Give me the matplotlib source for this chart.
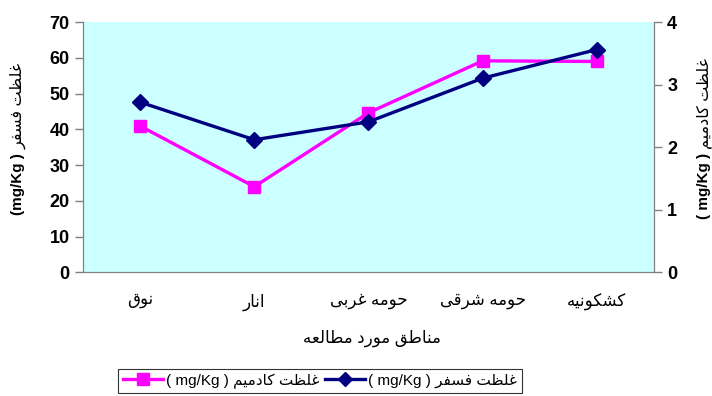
import numpy as np
import matplotlib
matplotlib.use('Agg')
import matplotlib.pyplot as plt
from matplotlib.lines import Line2D

# داده ها
regions = ['نوق', 'انار', 'حومه غربی', 'حومه شرقی', 'کشکونیه']
phosphorus = [47.6, 37.1, 42.1, 54.3, 62.3]      # left axis, mg/Kg
cadmium = [2.34, 1.37, 2.55, 3.38, 3.37]          # right axis, mg/Kg
left_ticks = [0, 10, 20, 30, 40, 50, 60, 70]
right_ticks = [0, 1, 2, 3, 4]

x_title = 'مناطق مورد مطالعه'
p_name = 'غلظت فسفر'
cd_name = 'غلظت کادمیم'

# matplotlib does no Arabic shaping, so pick presentation forms by hand
FORMS = {
    'ا': ('\uFE8D', '\uFE8E', None, None),
    'ب': ('\uFE8F', '\uFE90', '\uFE91', '\uFE92'),
    'ت': ('\uFE95', '\uFE96', '\uFE97', '\uFE98'),
    'ح': ('\uFEA1', '\uFEA2', '\uFEA3', '\uFEA4'),
    'د': ('\uFEA9', '\uFEAA', None, None),
    'ر': ('\uFEAD', '\uFEAE', None, None),
    'س': ('\uFEB1', '\uFEB2', '\uFEB3', '\uFEB4'),
    'ش': ('\uFEB5', '\uFEB6', '\uFEB7', '\uFEB8'),
    'ط': ('\uFEC1', '\uFEC2', '\uFEC3', '\uFEC4'),
    'ظ': ('\uFEC5', '\uFEC6', '\uFEC7', '\uFEC8'),
    'ع': ('\uFEC9', '\uFECA', '\uFECB', '\uFECC'),
    'غ': ('\uFECD', '\uFECE', '\uFECF', '\uFED0'),
    'ف': ('\uFED1', '\uFED2', '\uFED3', '\uFED4'),
    'ق': ('\uFED5', '\uFED6', '\uFED7', '\uFED8'),
    'ل': ('\uFEDD', '\uFEDE', '\uFEDF', '\uFEE0'),
    'م': ('\uFEE1', '\uFEE2', '\uFEE3', '\uFEE4'),
    'ن': ('\uFEE5', '\uFEE6', '\uFEE7', '\uFEE8'),
    'ه': ('\uFEE9', '\uFEEA', '\uFEEB', '\uFEEC'),
    'و': ('\uFEED', '\uFEEE', None, None),
    'ک': ('\uFB8E', '\uFB8F', '\uFB90', '\uFB91'),
    'ی': ('\uFBFC', '\uFBFD', '\uFBFE', '\uFBFF'),
}


def fa(s):
    out = []
    for i, c in enumerate(s):
        if c not in FORMS:
            out.append(c)
            continue
        f = FORMS[c]
        prev = s[i - 1] if i > 0 else ''
        nxt = s[i + 1] if i < len(s) - 1 else ''
        jp = prev in FORMS and FORMS[prev][2] is not None
        jn = nxt in FORMS and f[2] is not None
        if jp and jn:
            out.append(f[3])
        elif jp:
            out.append(f[1])
        elif jn:
            out.append(f[2])
        else:
            out.append(f[0])
    return ''.join(out)[::-1]


plt.rcParams['font.family'] = ['Liberation Sans', 'DejaVu Sans']

fig = plt.figure(figsize=(7.12, 3.96), dpi=100)
ax2 = fig.add_axes([0.1166, 0.3119, 0.8019, 0.6325])
ax = ax2.twinx()
ax.yaxis.tick_left()
ax2.yaxis.tick_right()
ax.set_zorder(ax2.get_zorder() + 1)
ax.patch.set_visible(False)
ax2.set_facecolor('#CCFFFF')

x = np.arange(len(regions))
ax2.plot(x, cadmium, color='#FF00FF', lw=2.4, marker='s', ms=9, clip_on=False)
ax.plot(x, phosphorus, color='#000080', lw=2.4, marker='D', ms=8, clip_on=False)

ax.set_ylim(0, 70)
ax2.set_ylim(0, 4)
ax.set_xlim(-0.5, len(regions) - 0.5)
ax.set_yticks(left_ticks)
ax2.set_yticks(right_ticks)
for a in (ax, ax2):
    for s in a.spines.values():
        s.set_color('#808080')
    a.spines['top'].set_visible(False)
    a.tick_params(axis='y', colors='#808080', labelcolor='black', length=6, width=1, labelsize=13)
    for t in a.get_yticklabels():
        t.set_fontweight('bold')

ax2.set_xticks(np.arange(len(regions) + 1) - 0.5)
ax2.set_xticklabels([])
ax2.set_xticks(x, minor=True)
ax2.set_xticklabels([fa(r) for r in regions], minor=True, fontsize=12)
ax2.tick_params(axis='x', which='major', colors='#808080', length=6)
ax2.tick_params(axis='x', which='minor', length=0, pad=15)
ax.set_xticks([])

fig.text(372 / 712, 1 - 338 / 396, fa(x_title), ha='center', va='center', fontsize=12)

# vertical axis titles
fig.text(18 / 712, 1 - 153 / 396, '(mg/Kg )', rotation=90, ha='center', va='top', fontsize=11, fontweight='bold')
fig.text(18 / 712, 1 - 149 / 396, fa(p_name), rotation=90, ha='center', va='bottom', fontsize=11.5)
fig.text(704 / 712, 1 - 153 / 396, '( mg/Kg )', rotation=90, ha='center', va='top', fontsize=11, fontweight='bold')
fig.text(704 / 712, 1 - 149 / 396, fa(cd_name), rotation=90, ha='center', va='bottom', fontsize=11.5)

handles = [Line2D([], [], color='#FF00FF', lw=2.4, marker='s', ms=8),
           Line2D([], [], color='#000080', lw=2.4, marker='D', ms=7)]
labels = ['( mg/Kg ) ' + fa(cd_name), '( mg/Kg ) ' + fa(p_name)]
leg = fig.legend(handles, labels, ncol=2, loc='center', bbox_to_anchor=(320 / 712, 1 - 381 / 396),
                 frameon=True, fancybox=False, edgecolor='black', fontsize=11,
                 handlelength=2.6, handletextpad=0.2, columnspacing=0.4, borderpad=0.3)
leg.get_frame().set_linewidth(0.8)

fig.savefig('out.png', dpi=100)
